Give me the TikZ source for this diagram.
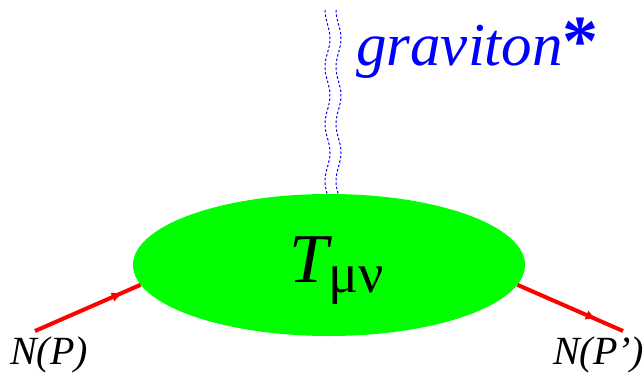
\documentclass[tikz,border=0pt]{standalone}
\usepackage{fontspec}
\setmainfont{Liberation Serif}
\usetikzlibrary{shapes.geometric,decorations.markings,arrows.meta}
\definecolor{fgreen}{RGB}{0,255,0}
\definecolor{gblue}{RGB}{0,0,255}
\definecolor{lred}{RGB}{255,0,0}
\begin{document}
\begin{tikzpicture}[x=1pt,y=-1pt,
  blob/.style={ellipse, fill=fgreen, minimum width=392pt, minimum height=142pt, inner sep=0pt},
  fermion/.style={lred, line width=4pt, postaction={decorate}},
  gwave/.style={gblue, line width=1pt, dash pattern=on 2.5pt off 2pt},
  lbl/.style={inner sep=0pt, anchor=base west}]
\useasboundingbox (0,0) rectangle (644,372);
\node[blob] (T) at (329,265) {};
\node[lbl] (Tl) at (289,282) {\fontsize{70}{80}\selectfont\itshape T\upshape\raisebox{-10pt}{\fontsize{56}{60}\selectfont μν}};
\coordinate (nin) at (35,331);
\coordinate (nout) at (623,331);
\draw[fermion, decoration={markings, mark=at position 0.83 with {\arrow{Latex[length=11pt,width=10pt]}}}] (nin) -- (T.186.8);
\draw[fermion, decoration={markings, mark=at position 0.75 with {\arrow{Latex[length=11pt,width=10pt]}}}] (T.-6.8) -- (nout);
\draw[gwave] plot[domain=10:194, samples=90] ({327.5-2.5*cos(6.3158*(\x-10))}, \x);
\draw[gwave] plot[domain=10:194, samples=90] ({338.5-2.5*cos(6.3158*(\x-10))}, \x);
\node[lbl, text=gblue] (grav) at (356,65) {\fontsize{61}{70}\selectfont\itshape graviton\upshape\bfseries\fontsize{72}{72}\selectfont*};
\node[lbl] (np) at (10,364) {\fontsize{40}{44}\selectfont\itshape N(P)};
\node[lbl] (npp) at (553,364) {\fontsize{40}{44}\selectfont\itshape N(P’)};
\end{tikzpicture}
\end{document}
